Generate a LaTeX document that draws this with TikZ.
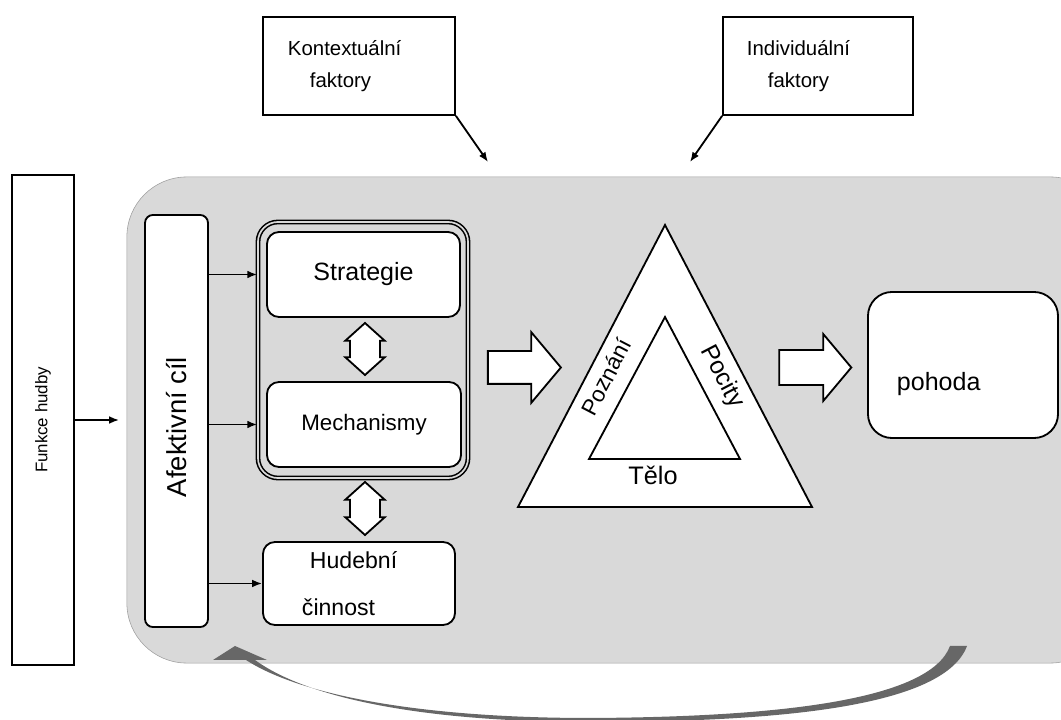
\documentclass[tikz,border=0pt]{standalone}
\usepackage{fontspec}
\setmainfont{Liberation Sans}
\usetikzlibrary{shapes.arrows,arrows.meta}
\definecolor{fieldgray}{HTML}{D9D9D9}
\definecolor{loopgray}{HTML}{676767}
\newcommand{\txtsize}[2]{\fontsize{#1}{#2}\selectfont}

\begin{document}
\begin{tikzpicture}[x=0.025cm,y=-0.025cm,
% common options for the white boxes:
box/.style = {draw, fill=white, line width=1.3pt, rounded corners=0.3cm, inner sep=0},
plain/.style = {draw, fill=white, line width=1.3pt, inner sep=0},
% common options for the thin arrows:
link/.style = {-{Latex[length=7pt,width=5.5pt]}, line width=1.3pt},
% common options for the white block arrows:
fat/.style = {single arrow, draw, fill=white, line width=1.3pt, inner xsep=0},
twin/.style = {double arrow, draw, fill=white, line width=1.3pt, inner xsep=0, rotate=90}]
\useasboundingbox (0,0) rectangle (1061,720);
\clip (0,0) rectangle (1061,720);
% grey field
\node[draw=gray!75, fill=fieldgray, rounded corners=1.5cm, minimum width=24.575cm,
      minimum height=12.15cm, inner sep=0] (field) at (618.5,420) {};
% left column
\node[plain, minimum width=1.55cm, minimum height=12.25cm] (funkce) at (43,420) {};
\node[rotate=90, font=\txtsize{12pt}{14pt}] (funkceTxt) at (funkce.center) {Funkce hudby};
\node[box, rounded corners=0.2cm, minimum width=1.575cm, minimum height=10.3cm] (afekt) at (176.5,421) {};
\node[rotate=90, font=\txtsize{19.5pt}{23pt}] (afektTxt) at (176.5,427) {Afektivní cíl};
% middle column
\node[draw, line width=1.1pt, double=fieldgray, double distance=1.2pt, rounded corners=0.5cm,
      minimum width=5.25cm, minimum height=6.4cm, inner sep=0] (group) at (363,350) {};
\node[box, minimum width=4.825cm, minimum height=2.125cm,
      font=\txtsize{17.8pt}{21pt}] (strat) at (363.5,274.5) {Strategie};
\node[box, minimum width=4.85cm, minimum height=2.125cm,
      font=\txtsize{15.9pt}{19pt}] (mech) at (364,424.5) {Mechanismy};
\node[box, minimum width=4.8cm, minimum height=2.075cm, text width=2.85cm, align=left,
      font=\txtsize{16.4pt}{19.7pt}] (hud) at (359,583.5) {\hspace*{0.2cm}Hudební\\[13.7pt]činnost};
\node[twin, minimum height=1.3cm, inner ysep=0.35cm, double arrow head extend=0.12cm,
      double arrow tip angle=96] (swapA) at (365,349) {};
\node[twin, minimum height=1.325cm, inner ysep=0.35cm, double arrow head extend=0.12cm,
      double arrow tip angle=96] (swapB) at (365,508.5) {};
% triangle
\coordinate (outTop) at (665,225);
\coordinate (outLeft) at (518,507);
\coordinate (outRight) at (812,507);
\coordinate (inTop) at (665,317);
\coordinate (inLeft) at (589,459);
\coordinate (inRight) at (740,459);
\draw[fill=white, line width=1.3pt] (outTop) -- (outLeft) -- (outRight) -- cycle;
\draw[fill=white, line width=1.3pt] (inTop) -- (inLeft) -- (inRight) -- cycle;
\node[rotate=62.5, font=\txtsize{16pt}{19pt}] (poznani) at (606,377) {Poznání};
\node[rotate=-62.5, font=\txtsize{17.5pt}{21pt}] (pocity) at (722,377) {Pocity};
\node[font=\txtsize{18pt}{21pt}] (telo) at (653,475) {Tělo};
% block arrows
\node[fat, minimum height=1.825cm, inner ysep=0.3875cm, single arrow head extend=0.475cm,
      single arrow tip angle=100] (goA) at (517.5,367.5) {};
\node[fat, minimum height=1.8cm, inner ysep=0.4125cm, single arrow head extend=0.4cm,
      single arrow tip angle=100] (goB) at (808,367.5) {};
% result
\node[box, rounded corners=0.6cm, minimum width=4.75cm, minimum height=3.65cm,
      text width=3.3cm, align=left, text height=1.35cm, text depth=0.1cm,
      font=\txtsize{17.8pt}{21pt}] (pohoda) at (963,365) {pohoda};
% factors on top
\node[plain, minimum width=4.8cm, minimum height=2.45cm, text width=3.55cm, align=left,
      font=\txtsize{14.5pt}{17pt}] (kontext) at (359,66) {Kontextuální\\[6pt]\hspace*{0.55cm}faktory};
\node[plain, minimum width=4.75cm, minimum height=2.45cm, text width=3.55cm, align=left,
      font=\txtsize{14.5pt}{17pt}] (indiv) at (818,66) {Individuální\\[6pt]\hspace*{0.525cm}faktory};
\coordinate (kontextIn) at (488,162);
\coordinate (indivIn) at (690,162);
\draw[link] (kontext.south east) -- (kontextIn);
\draw[link] (indiv.south west) -- (indivIn);
% thin arrows
\draw[link, shorten >=0.625cm] (funkce.east) -- (afekt.west |- funkce.east);
\draw[link] (afekt.east |- strat) -- (group.west |- strat);
\draw[link] (afekt.east |- mech) -- (group.west |- mech);
\draw[link] (afekt.east |- hud) -- (hud.west);
% feedback loop
\coordinate (loopR) at (958,646);
\coordinate (loopL) at (235,646);
\fill[loopgray] (950,646) .. controls (930,700) and (780,717) .. (590,718)
  .. controls (420,718) and (300,695) .. (246,660) -- (213,660) -- (loopL) -- (267,660)
  -- (255,660) .. controls (310,700) and (430,722) .. (590,722)
  .. controls (790,722) and (945,705) .. (967,646) -- cycle;
\end{tikzpicture}
\end{document}
